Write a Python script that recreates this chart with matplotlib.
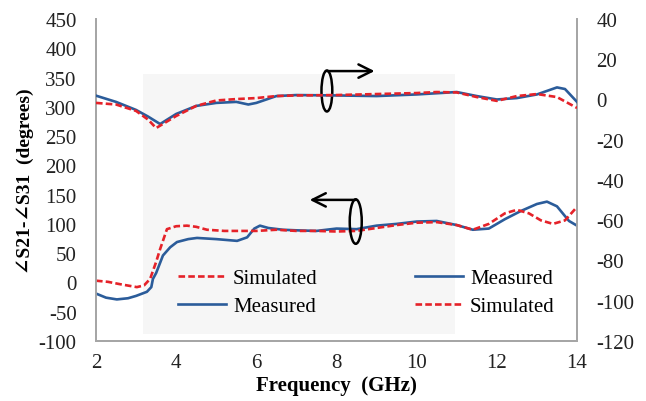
import matplotlib

matplotlib.use("Agg")

import matplotlib.pyplot as plt
from matplotlib.lines import Line2D
from matplotlib.patches import Ellipse, Rectangle

plt.rcParams["font.family"] = ["Liberation Serif", "DejaVu Serif"]
plt.rcParams["axes.unicode_minus"] = False

# lower curves: phase difference (left axis, degrees)
freq_ph_meas = [2.0, 2.25, 2.52, 2.8, 3.0, 3.27, 3.38, 3.42, 3.5, 3.67, 3.85, 4.02,
                4.3, 4.52, 5.0, 5.52, 5.77, 5.95, 6.09, 6.3, 6.66, 7.0, 7.5, 8.0,
                8.5, 9.0, 9.5, 10.0, 10.5, 11.0, 11.4, 11.8, 12.2, 12.6, 13.0,
                13.25, 13.5, 13.8, 14.0]
phase_meas = [-19, -26, -29, -27, -23, -16, -8, 6, 16, 46, 60, 69,
              74, 76, 74, 71, 77, 92, 97, 93, 90, 89, 88, 92,
              91, 97, 100, 104, 105, 98, 90, 92, 108, 122, 134,
              138, 130, 105, 97]

freq_ph_sim = [2.0, 2.3, 2.6, 3.02, 3.2, 3.35, 3.5, 3.6, 3.77, 4.0, 4.27, 4.5,
               4.77, 5.2, 6.0, 6.5, 7.0, 7.5, 8.0, 8.5, 9.0, 9.5, 10.0, 10.5,
               11.0, 11.4, 11.8, 12.2, 12.5, 12.8, 13.1, 13.4, 13.7, 14.0]
phase_sim = [3, 1, -3, -8, -5, 6, 35, 57, 91, 96, 97, 95,
             90, 88, 88, 90, 88, 88, 87, 88, 93, 98, 102, 103,
             98, 90, 100, 118, 124, 118, 106, 100, 106, 129]

# upper curves: amplitude difference (right axis, dB)
freq_amp_meas = [2.0, 2.5, 3.0, 3.3, 3.6, 4.0, 4.5, 5.0, 5.5, 5.8, 6.0, 6.5, 7.0,
                 8.0, 9.0, 10.0, 11.0, 11.5, 12.0, 12.5, 13.0, 13.5, 13.7, 14.0]
amp_meas = [1.9, -1.2, -5.2, -8.5, -12.2, -7.2, -3.2, -1.7, -1.2, -2.5, -1.7, 1.7, 2.2,
            2.0, 1.7, 2.5, 3.7, 1.7, 0.0, 0.7, 2.5, 6.0, 5.2, -1.2]

freq_amp_sim = [2.0, 2.5, 3.0, 3.3, 3.5, 4.0, 4.5, 5.0, 5.5, 6.0, 6.5, 7.0, 8.0,
                9.0, 10.0, 10.5, 11.0, 11.5, 12.0, 12.5, 13.0, 13.5, 14.0]
amp_sim = [-1.7, -2.5, -5.7, -10.0, -14.2, -8.2, -3.2, -0.5, 0.2, 0.7, 1.7, 2.0, 2.2,
           2.7, 3.2, 3.7, 3.5, 1.2, -0.7, 1.7, 2.7, 1.2, -4.2]

x_ticks = [2, 4, 6, 8, 10, 12, 14]
left_ticks = list(range(-100, 451, 50))
right_ticks = list(range(-120, 41, 20))

blue = "#2b5c9a"
red = "#e52229"
spine_gray = "#a6a6a6"

fig = plt.figure(figsize=(6.46, 4.02), dpi=100)
ax = fig.add_axes([0.1486, 0.1493, 0.7446, 0.8010])
ax2 = ax.twinx()

# light gray background patch
ax.add_patch(Rectangle((3.17, -88), 7.78, 444, facecolor="#f6f6f6",
                       edgecolor="none", zorder=0))

lw = 1.9
dash = (2.5, 1.2)
line_kw = dict(solid_joinstyle="round", dash_joinstyle="round")
ax.plot(freq_ph_meas, phase_meas, color=blue, lw=lw, zorder=3, **line_kw)
ax.plot(freq_ph_sim, phase_sim, color=red, lw=lw, dashes=dash, zorder=4, **line_kw)
ax2.plot(freq_amp_meas, amp_meas, color=blue, lw=lw, zorder=3, **line_kw)
ax2.plot(freq_amp_sim, amp_sim, color=red, lw=lw, dashes=dash, zorder=4, **line_kw)

ax.set_xlim(2, 14)
ax.set_ylim(-100, 450)
ax2.set_ylim(-120, 40)
ax.set_xticks(x_ticks)
ax.set_yticks(left_ticks)
ax2.set_yticks(right_ticks)

for a in (ax, ax2):
    a.tick_params(length=0, labelsize=15, colors="#222222")
    for s in a.spines.values():
        s.set_color(spine_gray)
        s.set_linewidth(1.3)
    a.spines["top"].set_visible(False)
    a.set_facecolor("none")
ax.tick_params(axis="y", pad=14)
ax.tick_params(axis="x", pad=9)
ax2.tick_params(axis="y", pad=14)

ax.set_xlabel("Frequency  (GHz)", fontsize=15, fontweight="bold", labelpad=2)
ax.set_ylabel("∠S21-∠S31  (degrees)", fontsize=14, fontweight="bold", labelpad=3)

# ellipse + arrow markers
ax.add_patch(Ellipse((7.76, 327), 0.27, 70, fill=False, edgecolor="black",
                     lw=1.8, zorder=6))
ax.annotate("", xy=(8.95, 361), xytext=(7.76, 361),
            arrowprops=dict(arrowstyle="->", lw=1.8, color="black",
                            mutation_scale=24, shrinkA=0, shrinkB=0), zorder=6)
ax.add_patch(Ellipse((8.48, 104), 0.3, 76, fill=False, edgecolor="black",
                     lw=1.8, zorder=6))
ax.annotate("", xy=(7.33, 141), xytext=(8.48, 141),
            arrowprops=dict(arrowstyle="->", lw=1.8, color="black",
                            mutation_scale=24, shrinkA=0, shrinkB=0), zorder=6)

h_sim = Line2D([], [], color=red, lw=lw, dashes=dash)
h_meas = Line2D([], [], color=blue, lw=lw)
leg_kw = dict(frameon=False, fontsize=15, handlelength=2.3, handletextpad=0.35,
              labelspacing=0.42, borderpad=0, borderaxespad=0, loc="upper left")
leg1 = ax2.legend([h_sim, h_meas], ["Simulated", "Measured"],
                  bbox_to_anchor=(0.17, 0.225), **leg_kw)
ax2.add_artist(leg1)
ax2.legend([h_meas, h_sim], ["Measured", "Simulated"],
           bbox_to_anchor=(0.663, 0.225), **leg_kw)

fig.savefig("out.png", dpi=100)
plt.close(fig)
